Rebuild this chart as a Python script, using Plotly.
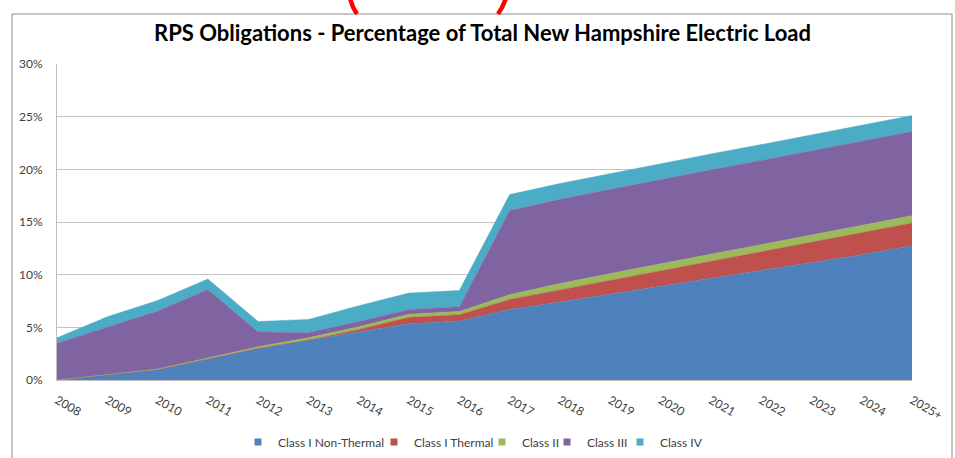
import plotly.graph_objects as go

years = ["2008", "2009", "2010", "2011", "2012", "2013", "2014", "2015", "2016",
         "2017", "2018", "2019", "2020", "2021", "2022", "2023", "2024", "2025+"]
class_i_non_thermal = [0.0, 0.5, 1.0, 2.0, 3.0, 3.8, 4.55, 5.35, 5.6,
                       6.7, 7.4, 8.15, 8.85, 9.6, 10.35, 11.1, 11.9, 12.75]
class_i_thermal = [0, 0, 0, 0, 0, 0, 0.25, 0.6, 0.6,
                   0.95, 1.15, 1.3, 1.5, 1.65, 1.8, 1.95, 2.05, 2.15]
class_ii = [0, 0, 0.04, 0.08, 0.15, 0.2, 0.25, 0.3, 0.3,
            0.45, 0.6, 0.65, 0.7, 0.7, 0.7, 0.7, 0.7, 0.7]
class_iii = [3.5, 4.5, 5.5, 6.5, 1.4, 0.5, 0.5, 0.45, 0.45,
             8.0, 8.0, 8.0, 8.0, 8.0, 8.0, 8.0, 8.0, 8.0]
class_iv = [0.5, 1.0, 1.0, 1.0, 1.0, 1.25, 1.5, 1.55, 1.55,
            1.5, 1.5, 1.5, 1.5, 1.5, 1.5, 1.5, 1.5, 1.5]

series_names = ["Class I Non-Thermal", "Class I Thermal", "Class II", "Class III", "Class IV"]
series_values = [class_i_non_thermal, class_i_thermal, class_ii, class_iii, class_iv]
series_colors = ["#4F81BD", "#C0504D", "#9BBB59", "#8064A2", "#4BACC6"]

W, H = 955, 458
L, R, T, B = 57, 43, 64, 78
pw, ph = W - L - R, H - T - B

def px(x):
    return (x - L) / pw

def py(y):
    return (H - B - y) / ph

font_fam = "Lato, 'Open Sans', sans-serif"

fig = go.Figure()
for name, vals, col in zip(series_names, series_values, series_colors):
    fig.add_trace(go.Scatter(
        x=years, y=[v / 100 for v in vals], name=name, mode="lines",
        stackgroup="one", line=dict(width=0.5, color=col), fillcolor=col,
        showlegend=False, hoverinfo="x+y+name"))

# legend entries with square swatches, each in its own legend box placed like the original
legend_text_x = [278, 414, 522, 587, 660]
legend_layout = {}
for i, (name, col, tx) in enumerate(zip(series_names, series_colors, legend_text_x)):
    key = "legend" if i == 0 else f"legend{i + 1}"
    fig.add_trace(go.Scatter(
        x=[None], y=[None], name=name, mode="markers",
        marker=dict(symbol="square", size=7, color=col), showlegend=True,
        legend=key))
    legend_layout[key] = dict(
        orientation="h", x=px(tx - 40), xanchor="left", y=py(442), yanchor="middle",
        font=dict(family=font_fam, size=12, color="#404040"),
        itemwidth=30, bgcolor="rgba(0,0,0,0)", borderwidth=0)

fig.update_layout(
    width=W, height=H,
    margin=dict(l=L, r=R, t=T, b=B, autoexpand=False),
    paper_bgcolor="white", plot_bgcolor="white",
    title=dict(text="<b>RPS Obligations - Percentage of Total New Hampshire Electric Load</b>",
               x=482.5 / W, xanchor="center", xref="container",
               y=1 - 33 / H, yanchor="middle", yref="container",
               font=dict(family=font_fam, size=22, color="#000000")),
    xaxis=dict(type="category", range=[0, len(years) - 1], tickangle=30,
               showgrid=False, showline=True, linecolor="#bfbfbf", linewidth=1,
               ticks="", ticklabelstandoff=8,
               tickfont=dict(family=font_fam, size=12, color="#404040")),
    yaxis=dict(range=[0, 0.30], dtick=0.05, tickformat=".0%",
               showgrid=True, gridcolor="#c4c4c4", gridwidth=1,
               showline=True, linecolor="#bfbfbf", linewidth=1,
               zeroline=False, ticks="", ticklabelstandoff=11,
               tickfont=dict(family=font_fam, size=12, color="#404040")),
    showlegend=True,
    shapes=[
        dict(type="rect", xref="paper", yref="paper",
             x0=px(12), x1=px(952), y0=py(470), y1=py(14),
             line=dict(color="#8c8c8c", width=1), fillcolor="rgba(0,0,0,0)", layer="above"),
        dict(type="path", xref="paper", yref="paper",
             path=f"M {px(350)},{py(-2)} Q {px(352)},{py(7)} {px(357)},{py(14)}",
             line=dict(color="#ff0000", width=4.5)),
        dict(type="path", xref="paper", yref="paper",
             path=f"M {px(506)},{py(-2)} Q {px(503)},{py(7)} {px(498)},{py(14)}",
             line=dict(color="#ff0000", width=4.5)),
    ],
    **legend_layout,
)

fig.write_html("out.html", config={"displayModeBar": False},
               post_script="document.body.style.margin='0px';")
